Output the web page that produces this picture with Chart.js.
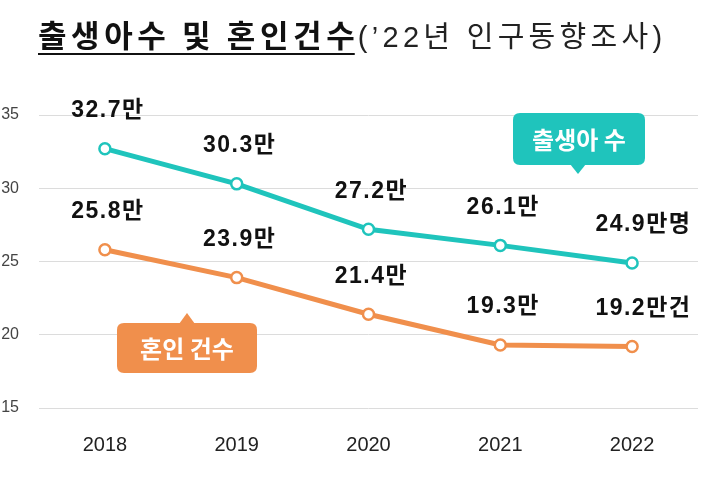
<!DOCTYPE html>
<html>
<head>
<meta charset="utf-8">
<script src="https://cdn.jsdelivr.net/npm/chart.js@4.4.0/dist/chart.umd.min.js"></script>
<style>
  html, body { margin: 0; padding: 0; background: #fff; }
  #wrap { width: 706px; height: 497px; }
</style>
</head>
<body>
<div id="wrap"><canvas id="myChart" width="706" height="497"></canvas></div>
<script>
// data
const years = ['2018', '2019', '2020', '2021', '2022'];
const births = [32.7, 30.3, 27.2, 26.1, 24.9];      // 만명
const marriages = [25.8, 23.9, 21.4, 19.3, 19.2];   // 만건
const yTicks = [15, 20, 25, 30, 35];
const lastSuffix = ['명', '건'];
const titleMain = '출생아수 및 혼인건수';
const titleSub = '(’22년 인구동향조사)';
const calloutNames = ['출생아 수', '혼인 건수'];

const TEAL = '#1fc4bc';
const ORANGE = '#f08f4c';
const labelFont = 'bold 23px "Liberation Sans", "Noto Sans CJK KR", sans-serif';

function roundRect(c, x, y, w, h, r) {
  c.beginPath();
  c.moveTo(x + r, y);
  c.lineTo(x + w - r, y);
  c.quadraticCurveTo(x + w, y, x + w, y + r);
  c.lineTo(x + w, y + h - r);
  c.quadraticCurveTo(x + w, y + h, x + w - r, y + h);
  c.lineTo(x + r, y + h);
  c.quadraticCurveTo(x, y + h, x, y + h - r);
  c.lineTo(x, y + r);
  c.quadraticCurveTo(x, y, x + r, y);
  c.closePath();
}

// value labels above the points
const valueLabels = {
  id: 'valueLabels',
  afterDatasetsDraw(chart) {
    const c = chart.ctx;
    c.save();
    c.font = labelFont;
    c.fillStyle = '#111';
    c.textBaseline = 'middle';
    try { c.letterSpacing = '1.5px'; } catch (e) {}
    chart.data.datasets.forEach((ds, di) => {
      const meta = chart.getDatasetMeta(di);
      meta.data.forEach((pt, i) => {
        const base = ds.data[i].toFixed(1) + '만';
        const y = pt.y - 38;
        if (i === ds.data.length - 1) {
          const w = c.measureText(base).width;
          c.textAlign = 'left';
          c.fillText(base + lastSuffix[di], pt.x - w / 2, y);
        } else {
          c.textAlign = 'center';
          c.fillText(base, pt.x + 3, y);
        }
      });
    });
    c.restore();
  }
};

// title + callout boxes
const decorations = {
  id: 'decorations',
  afterDraw(chart) {
    const c = chart.ctx;
    c.save();
    // title
    c.textBaseline = 'alphabetic';
    c.textAlign = 'left';
    c.fillStyle = '#111';
    c.font = 'bold 31px "Noto Sans CJK KR", sans-serif';
    try { c.letterSpacing = '4.6px'; } catch (e) {}
    const x0 = 38;
    c.fillText(titleMain, x0, 47);
    const wMain = c.measureText(titleMain).width - 4.6;
    c.fillRect(x0, 53, wMain, 2);
    c.font = '29px "Liberation Sans", "Noto Sans CJK KR", sans-serif';
    try { c.letterSpacing = '4.3px'; } catch (e) {}
    c.fillStyle = '#222';
    c.fillText(titleSub, x0 + wMain + 3, 47);
    try { c.letterSpacing = '0px'; } catch (e) {}

    // callouts
    const boxes = [
      { x: 513, y: 113, w: 132, h: 52, tipX: 578, tipY: 174, down: true, color: TEAL },
      { x: 117, y: 323, w: 140, h: 50, tipX: 187, tipY: 313, down: false, color: ORANGE }
    ];
    boxes.forEach((b, i) => {
      c.fillStyle = b.color;
      roundRect(c, b.x, b.y, b.w, b.h, 7);
      c.fill();
      c.beginPath();
      if (b.down) {
        c.moveTo(b.tipX - 8, b.y + b.h - 1);
        c.lineTo(b.tipX, b.tipY);
        c.lineTo(b.tipX + 8, b.y + b.h - 1);
      } else {
        c.moveTo(b.tipX - 8, b.y + 1);
        c.lineTo(b.tipX, b.tipY);
        c.lineTo(b.tipX + 8, b.y + 1);
      }
      c.closePath();
      c.fill();
      c.fillStyle = '#fff';
      c.font = 'bold 24px "Noto Sans CJK KR", sans-serif';
      c.textAlign = 'center';
      c.textBaseline = 'middle';
      c.fillText(calloutNames[i], b.x + b.w / 2, b.y + b.h / 2 + 1);
    });
    c.restore();
  }
};

const ctx = document.getElementById('myChart').getContext('2d');
const chart = new Chart(ctx, {
  type: 'line',
  data: {
    labels: years,
    datasets: [
      {
        data: births,
        borderColor: TEAL,
        borderWidth: 5,
        pointRadius: 5.5,
        pointBorderWidth: 2.5,
        pointBackgroundColor: '#fff',
        pointBorderColor: TEAL,
        tension: 0
      },
      {
        data: marriages,
        borderColor: ORANGE,
        borderWidth: 5,
        pointRadius: 5.5,
        pointBorderWidth: 2.5,
        pointBackgroundColor: '#fff',
        pointBorderColor: ORANGE,
        tension: 0
      }
    ]
  },
  options: {
    responsive: false,
    animation: false,
    layout: { padding: { top: 115, right: 6, left: 0, bottom: 0 } },
    plugins: { legend: { display: false }, tooltip: { enabled: false } },
    scales: {
      x: {
        offset: true,
        grid: { display: false },
        border: { display: false },
        ticks: {
          color: '#222',
          padding: 17,
          font: { family: '"Liberation Sans", sans-serif', size: 20 }
        },
        afterFit(scale) { scale.height = 89; }
      },
      y: {
        min: yTicks[0],
        max: yTicks[yTicks.length - 1],
        afterBuildTicks(scale) { scale.ticks = yTicks.map(v => ({ value: v })); },
        grid: { color: '#dcdcdc', lineWidth: 1, drawTicks: false },
        border: { display: false },
        ticks: {
          color: '#444',
          padding: 20,
          font: { family: '"Liberation Sans", sans-serif', size: 16 }
        },
        afterFit(scale) { scale.width = 39; }
      }
    }
  },
  plugins: [valueLabels, decorations]
});
</script>
</body>
</html>
